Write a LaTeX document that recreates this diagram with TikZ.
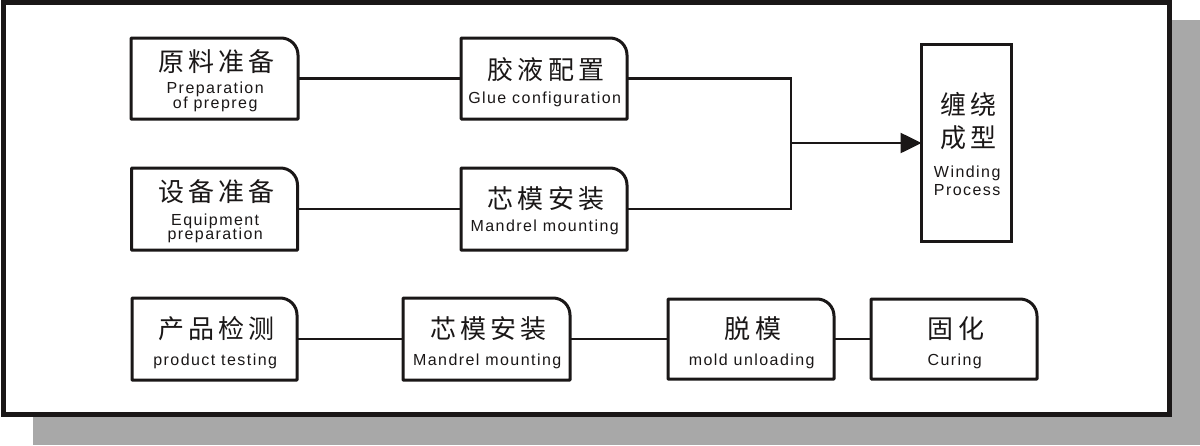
\documentclass[tikz,border=0pt]{standalone}
\usepackage{fontspec}
\setmainfont{Liberation Sans}
\newfontfamily\zhfont[LetterSpace=16]{Noto Sans CJK SC}
\newfontfamily\enfont[LetterSpace=9]{Liberation Sans}
\usetikzlibrary{arrows.meta}
\definecolor{shadowgray}{HTML}{A8A8A8}
\definecolor{ink}{HTML}{1A1717}
\newcommand\rbox[1]{\draw[boxline] (#1.south west) -- (#1.north west) -- ([xshift=-17pt]#1.north east) .. controls ([xshift=-7.6pt]#1.north east) and ([yshift=-7.6pt]#1.north east) .. ([yshift=-17pt]#1.north east) -- (#1.south east) -- cycle;}
\begin{document}
\begin{tikzpicture}[x=1pt,y=-1pt,
  boxn/.style={draw=none, inner sep=0pt, outer sep=0pt},
  boxline/.style={draw=ink, line width=3pt, line join=round},
  conn/.style={draw=ink, line width=2.6pt},
  zh/.style={font=\zhfont\fontsize{26}{26}\selectfont, text=ink, inner sep=0pt, anchor=base, xshift=2pt},
  en/.style={font=\enfont\fontsize{16}{16}\selectfont, text=ink, inner sep=0pt, anchor=base, xshift=0.7pt}]
\useasboundingbox (0,0) rectangle (1200,445);
\fill[shadowgray] (33,20) rectangle (1200,445);
\draw[draw=ink, line width=5pt, fill=white] (3.5,2.5) rectangle (1169,414.5);

% boxes
\node[boxn, minimum width=167pt, minimum height=81pt] (b1) at (214.5,78.5) {};
\node[boxn, minimum width=166pt, minimum height=81pt] (b2) at (544,78.5) {};
\node[boxn, minimum width=166pt, minimum height=82pt] (b3) at (214.5,209) {};
\node[boxn, minimum width=166pt, minimum height=82pt] (b4) at (544,209) {};
\node[boxn, minimum width=165pt, minimum height=82pt] (p1) at (214.5,339) {};
\node[boxn, minimum width=167pt, minimum height=82pt] (p2) at (486.5,339) {};
\node[boxn, minimum width=166pt, minimum height=80pt] (p3) at (751,339) {};
\node[boxn, minimum width=166pt, minimum height=80pt] (p4) at (954,339) {};
\node[boxn, draw=ink, line width=3pt, minimum width=90pt, minimum height=197pt] (w) at (966.5,143) {};
\rbox{b1}\rbox{b2}\rbox{b3}\rbox{b4}\rbox{p1}\rbox{p2}\rbox{p3}\rbox{p4}

% texts
\node[zh] at ([yshift=-33pt]b1.north) {原料准备};
\node[en] at ([yshift=-55pt]b1.north) {Preparation};
\node[en] at ([yshift=-70pt]b1.north) {of prepreg};

\node[zh] at ([yshift=-41pt]b2.north) {胶液配置};
\node[en] at ([yshift=-65pt]b2.north) {Glue configuration};

\node[zh] at ([yshift=-33.5pt]b3.north) {设备准备};
\node[en] at ([yshift=-57pt]b3.north) {Equipment};
\node[en] at ([yshift=-71pt]b3.north) {preparation};

\node[zh] at ([yshift=-40.5pt]b4.north) {芯模安装};
\node[en] at ([yshift=-63pt]b4.north) {Mandrel mounting};

\node[zh] at ([yshift=-69.5pt]w.north) {缠绕};
\node[zh] at ([yshift=-102.5pt]w.north) {成型};
\node[en] at ([yshift=-132.5pt]w.north) {Winding};
\node[en] at ([yshift=-151pt]w.north) {Process};

\node[zh] at ([yshift=-40pt]p1.north) {产品检测};
\node[en] at ([yshift=-67pt]p1.north) {product testing};
\node[zh] at ([yshift=-40pt]p2.north) {芯模安装};
\node[en] at ([yshift=-67pt]p2.north) {Mandrel mounting};
\node[zh] at ([yshift=-39pt]p3.north) {脱模};
\node[en] at ([yshift=-66pt]p3.north) {mold unloading};
\node[zh] at ([yshift=-39pt]p4.north) {固化};
\node[en] at ([yshift=-66pt]p4.north) {Curing};

% connectors
\coordinate (j) at (791,143);
\draw[conn] (b1.east) -- (b2.west);
\draw[conn] (b3.east) -- (b4.west);
\draw[conn, line join=miter] (b2.east) -| (j) |- (b4.east);
\draw[conn, -{Triangle[length=21pt,width=20pt]}] (j) -- (w.west);
\draw[conn] (p1.east) -- (p2.west);
\draw[conn] (p2.east) -- (p3.west);
\draw[conn] (p3.east) -- (p4.west);
\end{tikzpicture}
\end{document}
